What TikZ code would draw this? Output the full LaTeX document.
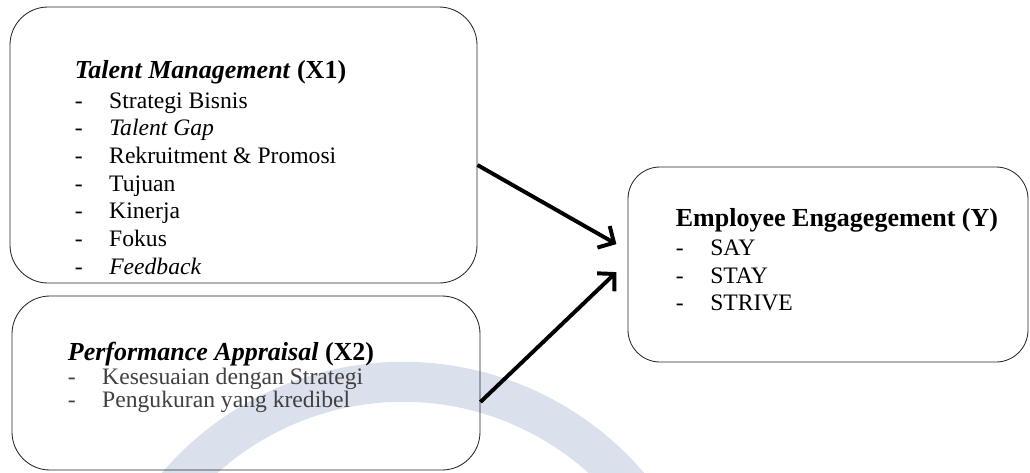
\documentclass[tikz,border=0pt]{standalone}
\usepackage{fontspec}
\setmainfont{Liberation Serif}
\usetikzlibrary{positioning,arrows.meta}

\definecolor{wmblue}{RGB}{218,224,236}
\newcommand{\itm}[1]{\makebox[0.86cm][l]{-}#1}
\newcommand{\ttl}{\fontsize{18.5}{20}\selectfont\bfseries}

\begin{document}
\begin{tikzpicture}[
        box/.style={rectangle, draw=black!85, line width=0.6pt, rounded corners=0.95cm},
        lst/.style={inner sep=0pt, align=left, font=\fontsize{16.8}{19.7}\selectfont},
        arr/.style={line width=2.8pt, -{Straight Barb[length=0.3cm, width=0.62cm]}}
    ]
        \useasboundingbox (0,0) rectangle (25.75,-11.8);
        % faint arc in the background
        \draw[wmblue, line width=1cm] ([shift={(150:7.43)}]10.075,-16.975) arc (150:30:7.43);

        \node (x1) [box, minimum width=11.675cm, minimum height=6.9cm] at (6.0875,-3.625) {};
        \node (x2) [box, minimum width=11.7cm, minimum height=4.35cm] at (6.15,-9.575) {};
        \node (y) [box, minimum width=10cm, minimum height=4.875cm, rounded corners=0.8cm] at (20.7,-6.6125) {};

        \node (x1txt) [lst, below right=1.33cm and 1.625cm of x1.north west] {%
            {\ttl\textit{Talent Management} (X1)}\\[1.6pt]
            \itm{Strategi Bisnis}\\
            \itm{\textit{Talent Gap}}\\
            \itm{Rekruitment \& Promosi}\\
            \itm{Tujuan}\\
            \itm{Kinerja}\\
            \itm{Fokus}\\
            \itm{\textit{Feedback}}};
        \node (x2txt) [lst, font=\fontsize{16.8}{16.4}\selectfont, below right=1.15cm and 1.4cm of x2.north west] {%
            {\ttl\textit{Performance Appraisal} (X2)}\\[0.6pt]
            \textcolor{black!75}{\itm{Kesesuaian dengan Strategi}}\\
            \textcolor{black!75}{\itm{Pengukuran yang kredibel}}};
        \node (ytxt) [lst, below right=1.04cm and 1.2cm of y.north west] {%
            {\ttl Employee Engagegement (Y)}\\[0.85pt]
            \itm{SAY}\\
            \itm{STAY}\\
            \itm{STRIVE}};

        \draw[arr] ([yshift=-0.5cm]x1.east) -- ([xshift=-0.28cm, yshift=0.51cm]y.west);
        \draw[arr] ([yshift=-0.475cm]x2.east) -- ([xshift=-0.28cm, yshift=-0.19cm]y.west);
    \end{tikzpicture}
\end{document}
